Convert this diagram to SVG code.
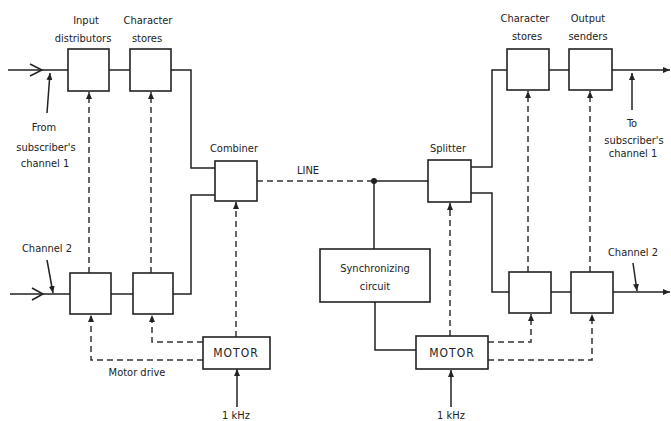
<svg xmlns="http://www.w3.org/2000/svg" width="671" height="421" viewBox="0 0 671 421">
<style>
  .box { fill: #fff; stroke: #222; stroke-width: 1.6; }
  .ln { fill: none; stroke: #222; stroke-width: 1.5; }
  .dash { fill: none; stroke: #333; stroke-width: 1.5; stroke-dasharray: 6 4; }
  text { font-family: "DejaVu Sans Condensed", "DejaVu Sans", sans-serif; font-stretch: condensed; font-size: 11px; fill: #222; text-anchor: middle; }
  .motor { font-size: 12px; letter-spacing: 1px; }
</style>
<defs>
  <marker id="ah" markerUnits="userSpaceOnUse" markerWidth="8" markerHeight="6" refX="7" refY="3" orient="auto">
    <path d="M0,0 L7,3 L0,6 z" fill="#222"/>
  </marker>
</defs>
<rect width="671" height="421" fill="#fff"/>

<g id="connectors">
  <!-- left inputs -->
  <path class="ln" d="M8,70 H68"/>
  <polyline class="ln" points="30,64 42,70 30,76"/>
  <path class="ln" d="M109,70 H130"/>
  <path class="ln" d="M171,70 H191 V168 H215"/>
  <path class="ln" d="M10,294 H70"/>
  <polyline class="ln" points="32,288 43,294 32,300"/>
  <path class="ln" d="M111,294 H133"/>
  <path class="ln" d="M173,294 H191 V195 H215"/>
  <!-- left dashed -->
  <path class="dash" d="M89,273 V92" marker-end="url(#ah)"/>
  <path class="dash" d="M151,273 V92" marker-end="url(#ah)"/>
  <path class="dash" d="M203,342 H152 V315" marker-end="url(#ah)"/>
  <path class="dash" d="M203,360 H91 V315" marker-end="url(#ah)"/>
  <path class="dash" d="M236,337 V202" marker-end="url(#ah)"/>
  <path class="ln" d="M237,407 V369" marker-end="url(#ah)"/>
  <!-- line -->
  <path class="dash" d="M257,181 H374"/>
  <path class="ln" d="M374,181 H428"/>
  <circle cx="374" cy="181" r="3" fill="#222"/>
  <path class="ln" d="M374,181 V249"/>
  <path class="ln" d="M375,302 V350 H416"/>
  <!-- splitter outputs -->
  <path class="ln" d="M471,167 H492 V70 H507"/>
  <path class="ln" d="M471,193 H492 V292 H509"/>
  <path class="ln" d="M549,70 H569"/>
  <path class="ln" d="M612,70 H670" marker-end="url(#ah)"/>
  <path class="ln" d="M551,292 H571"/>
  <path class="ln" d="M613,292 H670" marker-end="url(#ah)"/>
  <!-- right dashed -->
  <path class="dash" d="M528,272 V91" marker-end="url(#ah)"/>
  <path class="dash" d="M590,272 V91" marker-end="url(#ah)"/>
  <path class="dash" d="M450,336 V203" marker-end="url(#ah)"/>
  <path class="dash" d="M488,342 H531 V314" marker-end="url(#ah)"/>
  <path class="dash" d="M488,360 H592 V314" marker-end="url(#ah)"/>
  <path class="ln" d="M451,407 V370" marker-end="url(#ah)"/>
  <!-- leaders -->
  <path class="ln" d="M47,113 L50,73" stroke-width="1.2" marker-end="url(#ah)"/>
  <path class="ln" d="M47,260 L53,293" stroke-width="1.2" marker-end="url(#ah)"/>
  <path class="ln" d="M632,110 V73" stroke-width="1.2" marker-end="url(#ah)"/>
  <path class="ln" d="M633,263 L637,291" stroke-width="1.2" marker-end="url(#ah)"/>
</g>

<g id="input-distributor-1"><rect class="box" x="68" y="49" width="41" height="42"/></g>
<g id="character-store-l1"><rect class="box" x="130" y="49" width="41" height="42"/></g>
<g id="input-distributor-2"><rect class="box" x="70" y="273" width="41" height="41"/></g>
<g id="character-store-l2"><rect class="box" x="133" y="273" width="40" height="41"/></g>
<g id="combiner"><rect class="box" x="215" y="161" width="42" height="40"/></g>
<g id="motor-left"><rect class="box" x="203" y="337" width="67" height="32"/><text class="motor" x="236" y="357">MOTOR</text></g>
<g id="splitter"><rect class="box" x="428" y="160" width="43" height="42"/></g>
<g id="sync-circuit"><rect class="box" x="320" y="249" width="110" height="53"/><text x="375" y="272">Synchronizing</text><text x="375" y="290">circuit</text></g>
<g id="motor-right"><rect class="box" x="416" y="336" width="72" height="33"/><text class="motor" x="452" y="357">MOTOR</text></g>
<g id="character-store-r1"><rect class="box" x="507" y="49" width="42" height="41"/></g>
<g id="output-sender-1"><rect class="box" x="569" y="49" width="43" height="41"/></g>
<g id="character-store-r2"><rect class="box" x="509" y="272" width="42" height="41"/></g>
<g id="output-sender-2"><rect class="box" x="571" y="272" width="42" height="41"/></g>

<g id="labels">
  <text x="86" y="24">Input</text>
  <text x="83" y="42">distributors</text>
  <text x="148" y="24">Character</text>
  <text x="147" y="42">stores</text>
  <text x="44" y="131">From</text>
  <text x="46" y="151">subscriber's</text>
  <text x="45" y="167">channel 1</text>
  <text x="47" y="252">Channel 2</text>
  <text x="234" y="152">Combiner</text>
  <text x="308" y="174">LINE</text>
  <text x="448" y="152">Splitter</text>
  <text x="137" y="376">Motor drive</text>
  <text x="236" y="419">1 kHz</text>
  <text x="451" y="419">1 kHz</text>
  <text x="525" y="22">Character</text>
  <text x="527" y="40">stores</text>
  <text x="588" y="22">Output</text>
  <text x="588" y="40">senders</text>
  <text x="632" y="127">To</text>
  <text x="634" y="144">subscriber's</text>
  <text x="633" y="157">channel 1</text>
  <text x="633" y="256">Channel 2</text>
</g>
</svg>
